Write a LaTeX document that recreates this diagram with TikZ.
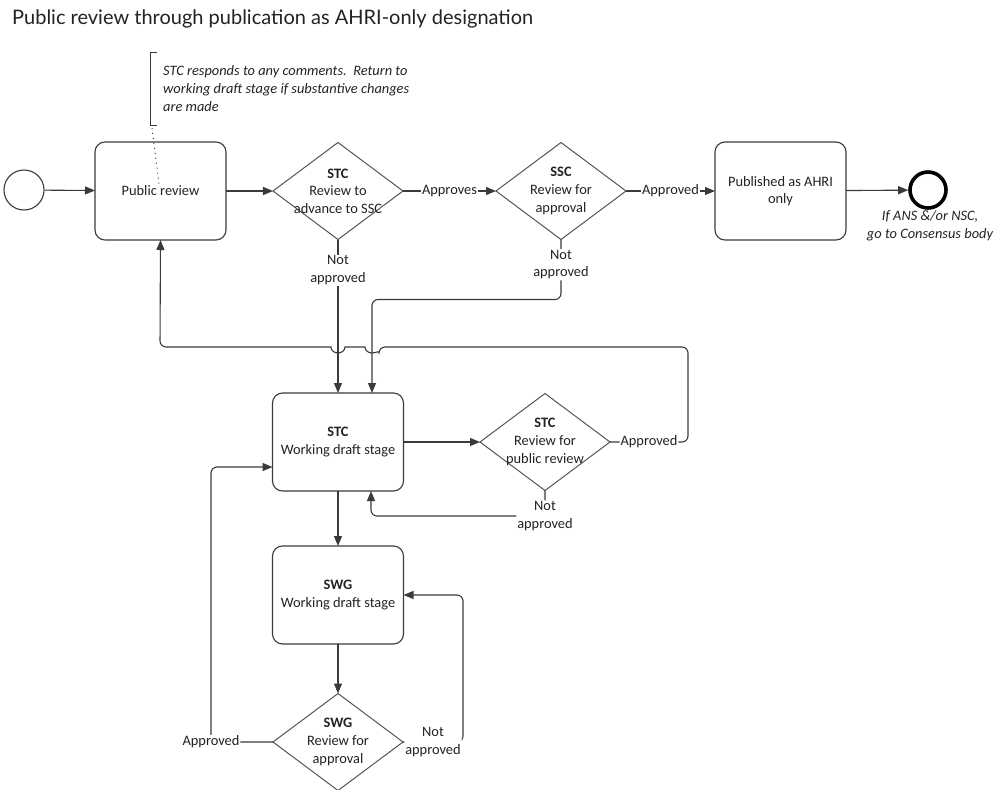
\documentclass[tikz,border=0pt]{standalone}
\usepackage{fontspec}
\setmainfont{Carlito}
\newfontfamily\titlefont{Lato}
\usetikzlibrary{shapes.geometric,arrows.meta}
\definecolor{linec}{HTML}{3A3A3A}
\definecolor{gatec}{HTML}{555555}
\definecolor{txtc}{HTML}{222222}
\begin{document}
\begin{tikzpicture}[x=1pt,y=-1pt,
  every node/.style={font=\fontsize{14.4}{17.6}\selectfont, text=txtc},
  task/.style={draw=linec, line width=1.1pt, rounded corners=10pt, minimum width=131pt, minimum height=98pt, align=center, inner sep=0pt, outer sep=0pt},
  gate/.style={diamond, draw=gatec, line width=1pt, minimum width=130pt, minimum height=97pt, inner sep=0pt, outer sep=0pt},
  gtext/.style={align=center, inner sep=0pt},
  lbl/.style={fill=white, align=center, inner sep=1pt},
  flow/.style={draw=linec, line width=1.1pt},
  arr/.style={flow, -{Triangle[length=10pt,width=8pt]}},
  itl/.style={font=\fontsize{14.4}{17.6}\selectfont\itshape},
]
\useasboundingbox (0,0) rectangle (1005,790);
\clip (0,0) rectangle (1005,790);

% title
\node[anchor=base west, inner sep=0pt, font=\titlefont\fontsize{20}{23}\selectfont] (title) at (12,24) {Public review through publication as AHRI-only designation};

% annotation
\node[anchor=west, align=left, inner sep=0pt, itl] (note) at (163,88.5) {STC responds to any comments.\ \ Return to\\working draft stage if substantive changes\\are made};
\draw[linec, line width=1pt] (157,52) -- (150,52) -- (150,125) -- (157,125);
\coordinate (notebot) at (152,128);
\coordinate (assoc) at (159,184);
\draw[linec, line width=1pt, dash pattern=on 1pt off 4pt] (notebot) -- (assoc);

% row 1
\node[circle, draw=linec, line width=1.1pt, minimum size=40pt, inner sep=0pt] (start) at (24,190) {};
\node[task] (pr) at (160.5,191) {Public review};
\node[gate] (g1) at (338,191) {};
\node[gtext] (g1t) at (g1) {\textbf{STC}\\Review to\\advance to SSC};
\node[gate] (g2) at (561,191) {};
\node[gtext] (g2t) at (g2) {\textbf{SSC}\\Review for\\approval};
\node[task] (pub) at (780.5,191) {Published as AHRI\\only};
\node[circle, draw=black, line width=3.6pt, minimum size=36pt, inner sep=0pt] (end) at (928,190) {};
\node[itl, align=center, inner sep=0pt] (endlbl) at (930,226) {If ANS \&/or NSC,\\go to Consensus body};

% row 3
\node[task] (stc) at (338,442) {\textbf{STC}\\Working draft stage};
\node[gate] (g3) at (545,442) {};
\node[gtext] (g3t) at (g3) {\textbf{STC}\\Review for\\public review};

% row 4/5
\node[task] (swg) at (338,595) {\textbf{SWG}\\Working draft stage};
\node[gate] (g4) at (338,742) {};
\node[gtext] (g4t) at (g4) {\textbf{SWG}\\Review for\\approval};

% flows row 1
\draw[arr] (start) -- (pr);
\draw[arr] (pr) -- (g1);
\draw[arr] (g1) -- node[lbl]{Approves} (g2);
\draw[arr] (g2) -- node[lbl]{Approved} (pub);
\draw[arr] (pub) -- (end);

% not approved from g1 and g2
\draw[arr] (g1.south) -- node[lbl, pos=0.2]{Not\\approved} (stc.north);
\draw[arr, rounded corners=6pt] (g2.south) -- node[lbl, pos=0.42]{Not\\approved} ++(0,60) -| ([xshift=34pt]stc.north);

% g3 approved loop back to public review (with hops)
\draw[arr] (g3.east) [rounded corners=6pt] -- node[lbl]{Approved} (688,442) -- (688,347) -- (379,347)
  [sharp corners] arc[start angle=0, end angle=-180, x radius=7pt, y radius=6pt] -- (345,347)
  arc[start angle=0, end angle=-180, x radius=7pt, y radius=6pt] -- (200,347)
  [rounded corners=6pt] -- (160,347) -- (pr.south);

\draw[arr] (stc) -- (g3);
\draw[arr, rounded corners=6pt] (g3.south) -- (g3.south |- 0,516) node[lbl]{Not\\approved} -| ([xshift=33pt]stc.south);

\draw[arr] (stc) -- (swg);
\draw[arr] (swg) -- (g4);
\draw[arr, rounded corners=6pt] (g4.west) -- ++(-62,0) node[lbl]{Approved} |- ([yshift=-25pt]stc.west);
\draw[arr, rounded corners=6pt] (g4.east) -- node[lbl]{Not\\approved} ++(60,0) |- (swg.east);
\end{tikzpicture}
\end{document}
